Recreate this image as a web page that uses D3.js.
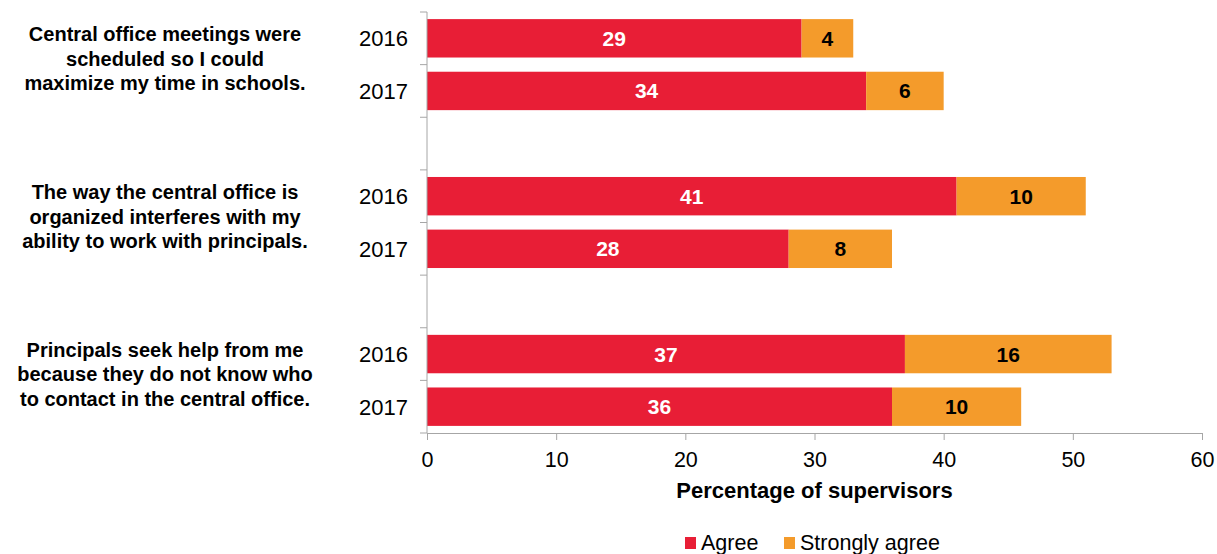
<!DOCTYPE html>
<html>
<head>
<meta charset="utf-8">
<script src="https://cdn.jsdelivr.net/npm/d3@7"></script>
<style>
  body { margin: 0; background: #fff; }
  svg { display: block; font-family: "Liberation Sans", Arial, sans-serif; }
  .axis path, .axis line { stroke: #a6a6a6; }
  .axis text { fill: #000; font-size: 21.5px; }
</style>
</head>
<body>
<svg id="chart" width="1217" height="554"></svg>
<script>
// Data
var questions = [
  ["Central office meetings were", "scheduled so I could", "maximize my time in schools."],
  ["The way the central office is", "organized interferes with my", "ability to work with principals."],
  ["Principals seek help from me", "because they do not know who", "to contact in the central office."]
];
var years = ["2016", "2017"];
var agree = [29, 34, 41, 28, 37, 36];
var stronglyAgree = [4, 6, 10, 8, 16, 10];
var xTicks = [0, 10, 20, 30, 40, 50, 60];
var seriesNames = ["Agree", "Strongly agree"];
var colors = ["#e81e36", "#f49b2b"];
var labelColors = ["#fff", "#000"];

// rows: one per question/year, with an empty slot between questions
var rows = [];
var slots = [];
questions.forEach(function(q, qi) {
  years.forEach(function(yr, yi) {
    var i = qi * years.length + yi;
    var key = qi + "-" + yr;
    rows.push({key: key, q: qi, year: yr, agree: agree[i], strong: stronglyAgree[i]});
    slots.push(key);
  });
  if (qi < questions.length - 1) slots.push(qi + "-gap");
});

var svg = d3.select("#chart");
var plotLeft = 427, plotRight = 1202, plotTop = 12, plotBottom = 433;

var x = d3.scaleLinear().domain([0, 60]).range([plotLeft, plotRight]);
var y = d3.scaleBand().domain(slots).range([plotTop, plotBottom])
    .paddingInner(0.27).paddingOuter(0.135);
var step = y.step();

var stack = d3.stack().keys(["agree", "strong"]);
var series = stack(rows);

var g = svg.append("g");

g.selectAll(".serie")
  .data(series)
  .enter().append("g")
    .attr("class", "serie")
    .attr("fill", function(d, i) { return colors[i]; })
  .selectAll("rect")
  .data(function(d) { return d; })
  .enter().append("rect")
    .attr("x", function(d) { return x(d[0]); })
    .attr("y", function(d) { return y(d.data.key); })
    .attr("width", function(d) { return x(d[1]) - x(d[0]); })
    .attr("height", y.bandwidth());

// value labels
series.forEach(function(s, si) {
  g.selectAll(".val" + si)
    .data(s)
    .enter().append("text")
      .attr("x", function(d) { return (x(d[0]) + x(d[1])) / 2; })
      .attr("y", function(d) { return y(d.data.key) + y.bandwidth() / 2; })
      .attr("dy", "0.36em")
      .attr("text-anchor", "middle")
      .attr("font-size", "21px")
      .attr("font-weight", "bold")
      .attr("fill", labelColors[si])
      .text(function(d) { return d[1] - d[0]; });
});

// x axis
svg.append("g")
    .attr("class", "axis")
    .attr("transform", "translate(0," + plotBottom + ")")
    .call(d3.axisBottom(x).tickValues(xTicks).tickSize(7).tickSizeOuter(0).tickPadding(12));

// y axis: line plus ticks at the slot boundaries
var ya = svg.append("g").attr("class", "axis");
ya.append("line")
    .attr("x1", plotLeft).attr("x2", plotLeft)
    .attr("y1", plotTop).attr("y2", plotBottom);
ya.selectAll(".tick")
  .data(d3.range(slots.length + 1))
  .enter().append("line")
    .attr("x1", plotLeft - 7).attr("x2", plotLeft)
    .attr("y1", function(i) { return plotTop + i * step; })
    .attr("y2", function(i) { return plotTop + i * step; });

// year labels
svg.selectAll(".year")
  .data(rows)
  .enter().append("text")
    .attr("x", 408)
    .attr("y", function(d) { return y(d.key) + y.bandwidth() / 2; })
    .attr("dy", "0.36em")
    .attr("text-anchor", "end")
    .attr("font-size", "22px")
    .text(function(d) { return d.year; });

// question labels, centred on their two rows
questions.forEach(function(q, qi) {
  var mid = (y(qi + "-" + years[0]) + y(qi + "-" + years[1]) + y.bandwidth()) / 2;
  var t = svg.append("text")
      .attr("text-anchor", "middle")
      .attr("font-size", "20px")
      .attr("font-weight", "bold");
  q.forEach(function(line, li) {
    t.append("tspan")
      .attr("x", 165)
      .attr("y", mid + 1 + (li - 1) * 24.3)
      .text(line);
  });
});

// axis title
svg.append("text")
    .attr("x", (plotLeft + plotRight) / 2)
    .attr("y", 498)
    .attr("text-anchor", "middle")
    .attr("font-size", "22px")
    .attr("font-weight", "bold")
    .text("Percentage of supervisors");

// legend
var legend = svg.selectAll(".legend")
  .data(seriesNames)
  .enter().append("g")
    .attr("class", "legend")
    .attr("transform", function(d, i) { return "translate(" + (i === 0 ? 685 : 784) + ",537)"; });

legend.append("rect")
    .attr("width", 11)
    .attr("height", 12)
    .attr("fill", function(d, i) { return colors[i]; });

legend.append("text")
    .attr("x", 16)
    .attr("y", 13)
    .attr("font-size", "21.5px")
    .text(function(d) { return d; });
</script>
</body>
</html>
